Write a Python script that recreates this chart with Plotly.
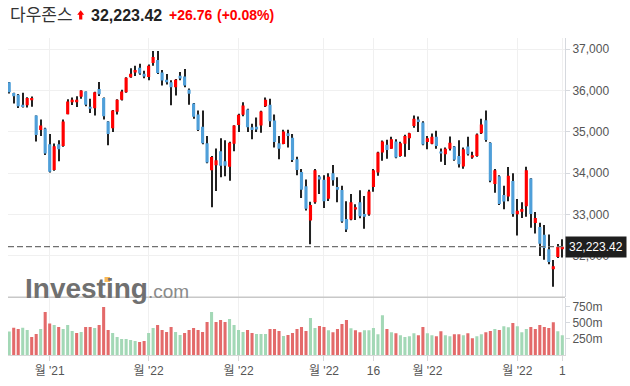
import plotly.graph_objects as go

# ---------------- data ----------------
month_days = [
    ("2021-11", [17, 18, 19, 22, 23, 24, 26, 29, 30]),
    ("2021-12", [1, 2, 3, 6, 7, 8, 9, 10, 13, 14, 15, 16, 17, 20, 21, 22, 23, 27, 28, 29, 30, 31]),
    ("2022-01", [3, 4, 5, 6, 7, 10, 11, 12, 13, 14, 18, 19, 20, 21, 24, 25, 26, 27, 28, 31]),
    ("2022-02", [1, 2, 3, 4, 7, 8, 9, 10, 11, 14, 15, 16, 17, 18, 22, 23, 24, 25, 28]),
    ("2022-03", [1, 2, 3, 4, 7, 8, 9, 10, 11, 14, 15, 16, 17, 18, 21, 22, 23, 24, 25, 28, 29, 30, 31]),
    ("2022-04", [1, 4, 5, 6, 7, 8, 11, 12, 13, 14, 18, 19, 20, 21, 22, 25, 26, 27, 28, 29]),
    ("2022-05", [2, 3, 4, 5, 6, 9, 10, 11, 12, 13, 16]),
]
dates = [f"{m}-{d:02d}" for m, days in month_days for d in days]

opens = [36200, 35940, 35900, 35660, 35645, 35765, 35400, 35045, 35080, 34700,
         34080, 34700, 34660, 35430, 35720, 35720, 35850, 35975, 35610, 35575,
         36040, 35820, 35250, 35090, 35490, 35780, 35960, 36320, 36440, 36550,
         36405, 36330, 36665, 36740, 36440, 36260, 36200, 36080, 36360, 36340,
         36020, 35690, 35420, 35125, 34725, 34075, 34195, 34530, 34290, 34155,
         34715, 35165, 35415, 35545, 35110, 35125, 35155, 35620, 35660, 35275,
         34725, 34710, 34965, 34860, 34340, 34030, 33685, 32855, 33300, 33920,
         33840, 33380, 34000, 33665, 33595, 32895, 32880, 33120, 33300, 33015,
         33000, 33670, 34020, 34500, 34690, 34595, 34770, 34420, 34715, 34845,
         35140, 35300, 35225, 34755, 34715, 34885, 34525, 34460, 34595, 34645,
         34420, 34165, 34645, 34380, 34420, 34965, 35285, 34740, 33740, 33930,
         33475, 33440, 33815, 33010, 33070, 33200, 33875, 32795, 32700, 32510,
         32160, 31680, 31975, 32160]
highs = [36210, 35950, 35920, 35950, 35840, 35855, 35400, 35300, 35100, 34950,
         34720, 34800, 35300, 35790, 35830, 35860, 36010, 35980, 35800, 35970,
         36210, 35830, 35260, 35530, 35790, 36020, 36320, 36540, 36600, 36650,
         36480, 36630, 36960, 36960, 36500, 36400, 36250, 36280, 36450, 36520,
         36050, 35700, 35520, 35515, 34900, 34420, 34600, 34845, 34800, 34760,
         35160, 35440, 35720, 35560, 35200, 35350, 35510, 35830, 35800, 35420,
         34900, 35050, 35050, 34950, 34400, 34100, 33850, 33310, 34100, 33950,
         33950, 34000, 34200, 33900, 33700, 33320, 33500, 33250, 33590, 33450,
         33600, 34100, 34520, 34790, 34810, 34880, 34820, 34760, 34930, 34980,
         35400, 35370, 35260, 34900, 34960, 35030, 34600, 34620, 34890, 34660,
         34800, 34620, 34880, 34520, 34960, 35320, 35515, 34750, 34100, 33950,
         33700, 34150, 34000, 33375, 33300, 34155, 33880, 33060, 32800, 32750,
         32520, 31900, 32290, 32400]
lows = [35930, 35690, 35580, 35590, 35590, 35610, 34765, 34900, 34440, 34020,
        34060, 34290, 34640, 35430, 35650, 35600, 35800, 35620, 35460, 35400,
        35870, 35300, 34680, 35000, 35420, 35760, 35950, 36310, 36350, 36380,
        36300, 36250, 36600, 36400, 36120, 36150, 35645, 35880, 36250, 36080,
        35660, 35320, 35020, 34700, 34240, 33180, 33570, 33900, 33930, 33820,
        34530, 35000, 35380, 35000, 34820, 35000, 34980, 35600, 35120, 34620,
        34340, 34700, 34620, 34270, 33950, 33400, 33100, 32280, 33260, 33500,
        33160, 33330, 33700, 33300, 32800, 32580, 32860, 32870, 32910, 32660,
        32970, 33550, 33940, 34300, 34350, 34590, 34360, 34400, 34400, 34560,
        35100, 35000, 34680, 34580, 34700, 34590, 34280, 34200, 34550, 34300,
        34140, 34110, 34430, 34350, 34400, 34950, 34760, 33780, 33530, 33230,
        33130, 33320, 32950, 32495, 32920, 32950, 32680, 32540, 32000, 31910,
        31800, 31255, 31950, 31960]
closes = [35960, 35860, 35620, 35600, 35820, 35820, 34925, 35155, 34480, 34035,
          34650, 34580, 35250, 35735, 35780, 35780, 36000, 35660, 35560, 35960,
          35910, 35380, 34950, 35520, 35780, 35975, 36310, 36405, 36500, 36415,
          36340, 36600, 36810, 36425, 36245, 36200, 36080, 36260, 36290, 36120,
          35925, 35365, 35045, 34725, 34260, 34395, 34315, 34180, 34180, 34740,
          35155, 35415, 35640, 35115, 35045, 35060, 35495, 35780, 35260, 34755,
          34595, 35010, 34900, 34320, 34080, 33600, 33140, 33230, 34075, 33850,
          33320, 33915, 33830, 33600, 32830, 32640, 33300, 33180, 32960, 32950,
          33560, 34075, 34500, 34765, 34560, 34820, 34380, 34725, 34900, 34965,
          35320, 35240, 34695, 34845, 34885, 34660, 34475, 34595, 34740, 34325,
          34220, 34580, 34460, 34435, 34940, 35180, 34805, 33820, 34075, 33255,
          33315, 33940, 33015, 33090, 33135, 34075, 33015, 32915, 32295, 32190,
          31855, 31750, 32220, 32223.42]

# volume in millions, and bar colour (g = green, r = red)
volumes = [365, 427, 406, 427, 390, 281, 328, 406, 672, 490,
           469, 437, 406, 469, 375, 344, 359, 437, 437, 422,
           469, 750, 390, 344, 281, 250, 250, 234, 219, 203,
           219, 344, 422, 469, 390, 359, 437, 359, 312, 344,
           390, 422, 390, 359, 516, 672, 516, 547, 516, 562,
           469, 390, 359, 390, 344, 328, 328, 328, 406, 406,
           375, 297, 312, 344, 406, 437, 375, 578, 422, 453,
           437, 385, 354, 406, 484, 547, 417, 385, 354, 385,
           385, 422, 323, 620, 406, 354, 339, 307, 281, 292,
           339, 307, 437, 339, 307, 292, 370, 307, 292, 323,
           323, 307, 339, 260, 292, 323, 354, 375, 406, 390,
           448, 432, 500, 448, 354, 406, 437, 406, 469, 437,
           422, 511, 370, 307]
vol_dir = ("grrggrrgrr" "grgggrgrrg" "rrrggggggr" "rggrrrrggr" "rrrrrgrrrg"
           "gggrrgggrr" "rgrrrrrggr" "rgrrrrgrrg" "ggggrgrggg" "grrggrrggr"
           "rgrrggrrgr" "ggrgggrrrr" "rrgg")

tick_idx = [9, 31, 51, 70, 81, 93, 113, 123]
tick_labels = ["월 '21", "월 '22", "월 '22", "월 '22", "16", "월 '22", "월 '22", "1"]
price_ticks = [32000, 33000, 34000, 35000, 36000, 37000]
vol_ticks = [250, 500, 750]
vol_tick_labels = ["250m", "500m", "750m"]

last_price = 32223.42
title_name = "다우존스"
title_price = "32,223.42"
title_change = "+26.76"
title_pct = "(+0.08%)"

# ---------------- styling ----------------
UP, DOWN = "#ff0000", "#4f9fd9"
VUP, VDOWN = "#a3d8b6", "#e36a6a"
FONT = "Liberation Sans, Arial, Noto Sans CJK KR, sans-serif"
W, H = 630, 386
ML, MR, MT, MB = 8, 65, 38, 29


def pxx(x):
    return (x - ML) / (W - ML - MR)


def pxy(y):
    return (H - MB - y) / (H - MT - MB)


wick_h = [h - l for h, l in zip(highs, lows)]
body_base = [min(o, c) for o, c in zip(opens, closes)]
body_h = [abs(c - o) for o, c in zip(opens, closes)]
body_col = [UP if c >= o else DOWN for o, c in zip(opens, closes)]
vol_col = [VUP if s == "g" else VDOWN for s in vol_dir]

fig = go.Figure()
# wicks (thin bars, drawn first so the bodies sit on top)
fig.add_trace(go.Bar(x=dates, y=wick_h, base=lows, width=0.24,
                     marker=dict(color="#222222", line=dict(width=0)), yaxis="y", hoverinfo="skip"))
# bodies
fig.add_trace(go.Bar(x=dates, y=body_h, base=body_base, width=0.7,
                     marker=dict(color=body_col, line=dict(width=0)), yaxis="y"))
# volume
fig.add_trace(go.Bar(x=dates, y=volumes, width=0.68,
                     marker=dict(color=vol_col, line=dict(width=0)), yaxis="y2"))

grid = "#f0f0f0"
fig.update_layout(
    width=W, height=H, margin=dict(l=ML, r=MR, t=MT, b=MB),
    paper_bgcolor="white", plot_bgcolor="white",
    showlegend=False, barmode="overlay",
    font=dict(family=FONT, size=12, color="#555"),
    xaxis=dict(type="category", categoryorder="array", categoryarray=dates,
               range=[-0.27, 123.6], anchor="y2",
               tickvals=[dates[i] for i in tick_idx], ticktext=tick_labels,
               showgrid=True, gridcolor=grid, gridwidth=1,
               ticks="outside", ticklen=5, tickcolor="#d8d8d8",
               showline=True, linecolor="#d8d8d8", linewidth=1,
               tickfont=dict(size=12, color="#555"), zeroline=False),
    yaxis=dict(domain=[(357 - 299) / 319, 1], range=[30997, 37272], side="right",
               anchor="x", tickvals=price_ticks, tickformat=",",
               showgrid=True, gridcolor=grid, zeroline=False,
               ticks="outside", ticklen=4, tickcolor="#d6d9de",
               showline=True, linecolor="#d6d9de", linewidth=1,
               tickfont=dict(size=12, color="#555")),
    yaxis2=dict(domain=[0, (357 - 300) / 319], range=[0, 884], side="right",
                anchor="x", tickvals=vol_ticks, ticktext=vol_tick_labels,
                showgrid=False, zeroline=False,
                ticks="outside", ticklen=4, tickcolor="#d6d9de",
                showline=True, linecolor="#d6d9de", linewidth=1,
                tickfont=dict(size=12, color="#555")),
)

# price panel bottom line and last-price dashed line
fig.add_shape(type="line", xref="paper", yref="y domain", x0=0, x1=1, y0=0, y1=0,
              line=dict(color="#c8c8c8", width=1.5))
fig.add_shape(type="line", xref="paper", yref="y", x0=0, x1=1, y0=last_price, y1=last_price,
              line=dict(color="#707070", width=1.3, dash="6px,3px"))
fig.add_annotation(xref="paper", yref="y", x=1, y=last_price, xanchor="left", yanchor="middle",
                   text=f"{last_price:,.2f}", showarrow=False, bgcolor="#1e1e1e",
                   borderpad=3, font=dict(color="white", size=12, family=FONT))

# watermark logo
fig.add_annotation(xref="paper", yref="paper", x=pxx(23), y=pxy(290.5), xanchor="left", yanchor="middle",
                   text="<b>Investing</b><span style='font-size:19px;color:#8a8a8a'>.com</span>",
                   showarrow=False, font=dict(size=28, color="#707070", family=FONT))
fig.add_shape(type="rect", xref="paper", yref="paper",
              x0=pxx(104.5), x1=pxx(110), y0=pxy(283.5), y1=pxy(278.5),
              fillcolor="#f7b955", line=dict(width=0), layer="above")

# header
ty = pxy(15)
fig.add_annotation(xref="paper", yref="paper", x=pxx(8), y=ty, xanchor="left", yanchor="middle",
                   text=title_name, showarrow=False, font=dict(size=17, color="#333", family=FONT))
fig.add_annotation(xref="paper", yref="paper", x=pxx(89), y=ty, xanchor="left", yanchor="middle",
                   text=f"<b>{title_price}</b>", showarrow=False,
                   font=dict(size=16, color="#222", family=FONT))
fig.add_annotation(xref="paper", yref="paper", x=pxx(167), y=ty, xanchor="left", yanchor="middle",
                   text=f"<b>{title_change}</b>", showarrow=False,
                   font=dict(size=14, color="#f00", family=FONT))
fig.add_annotation(xref="paper", yref="paper", x=pxx(215), y=ty, xanchor="left", yanchor="middle",
                   text=f"<b>{title_pct}</b>", showarrow=False,
                   font=dict(size=14, color="#f00", family=FONT))

# up-arrow icon
pts = [(80.7, 10), (84.2, 14.7), (82.3, 14.7), (82.3, 19.3), (79.1, 19.3), (79.1, 14.7), (77.2, 14.7)]
path = "M " + " L ".join(f"{pxx(a):.5f},{pxy(b):.5f}" for a, b in pts) + " Z"
fig.add_shape(type="path", xref="paper", yref="paper", path=path,
              fillcolor="#f00", line=dict(width=0))

fig.write_html("out.html", config={"displayModeBar": False},
               post_script="document.body.style.margin='0';")
